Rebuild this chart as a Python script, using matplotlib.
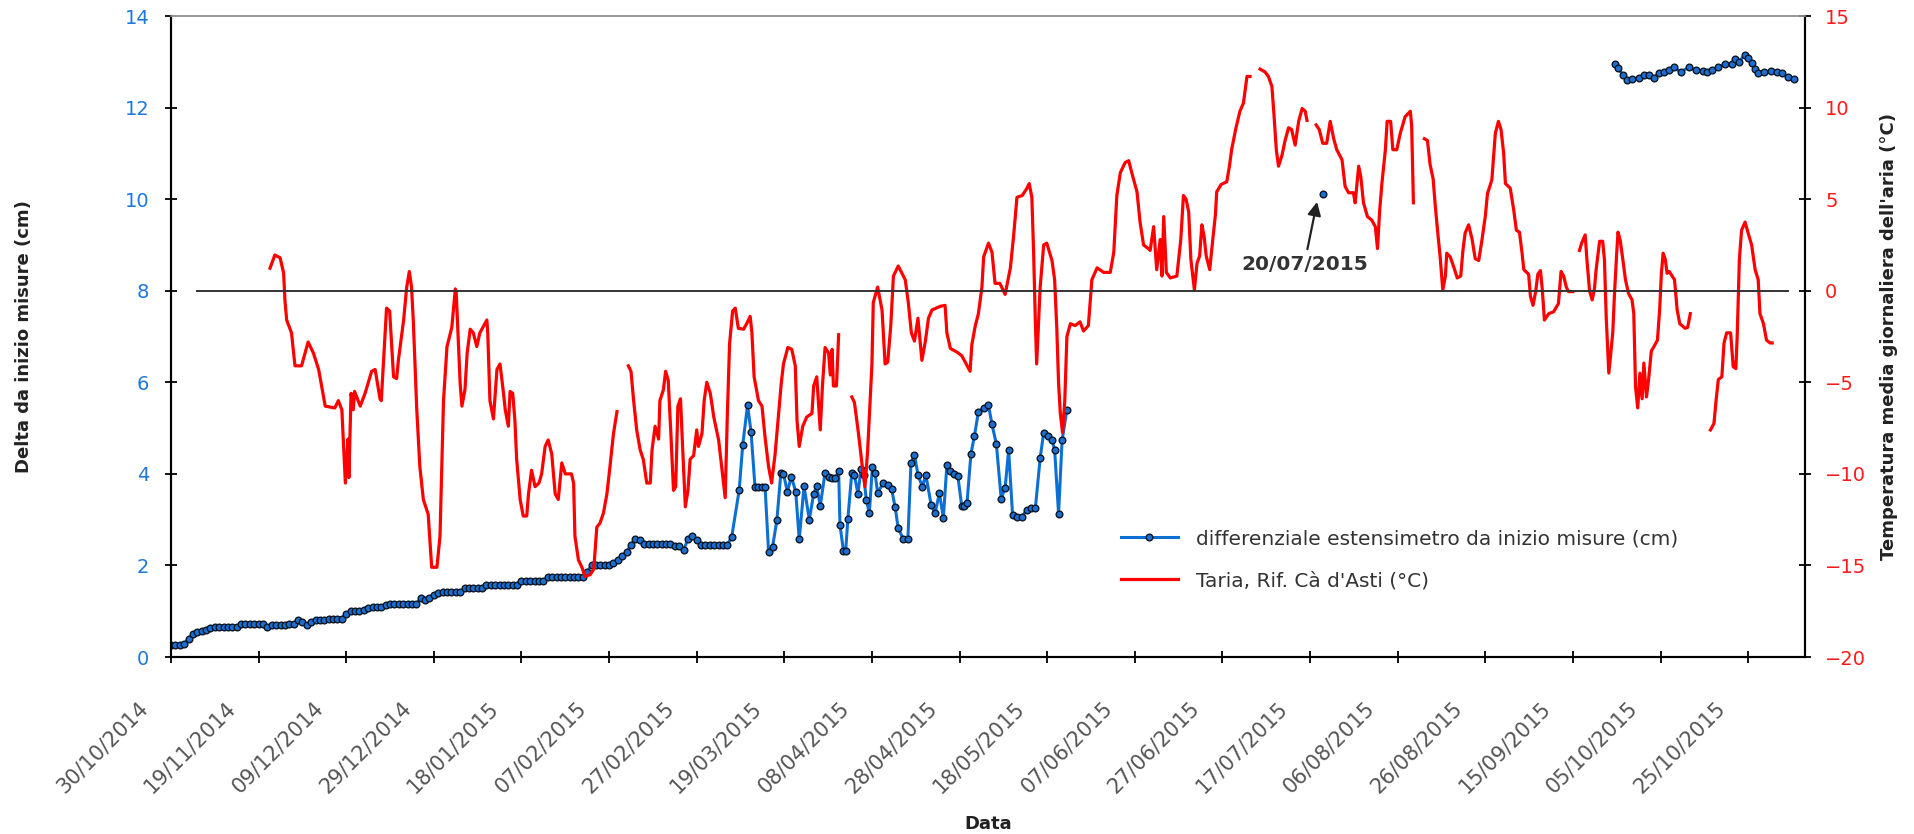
import numpy as np
import pandas as pd
import matplotlib
matplotlib.use("Agg")
import matplotlib.pyplot as plt
import matplotlib.dates as mdates
from matplotlib.transforms import ScaledTranslation

# day 0 = 30/10/2014 (start of the measurements)
start = pd.Timestamp("2014-10-30")

# extensometer, first period: one reading per day (cm)
blue_daily = [0.27, 0.27, 0.27, 0.28, 0.40, 0.50, 0.55, 0.57, 0.60, 0.63,
              0.66, 0.66, 0.66, 0.66, 0.66, 0.66, 0.72, 0.72, 0.72, 0.72,
              0.72, 0.72, 0.66, 0.70, 0.70, 0.70, 0.70, 0.72, 0.72, 0.80,
              0.76, 0.70, 0.76, 0.80, 0.80, 0.80, 0.84, 0.84, 0.84, 0.84,
              0.95, 1.00, 1.00, 1.00, 1.02, 1.06, 1.10, 1.10, 1.10, 1.13,
              1.16, 1.16, 1.16, 1.16, 1.16, 1.16, 1.16, 1.28, 1.25, 1.30,
              1.35, 1.40, 1.42, 1.42, 1.42, 1.42, 1.42, 1.50, 1.50, 1.50,
              1.50, 1.50, 1.58, 1.58, 1.58, 1.58, 1.58, 1.58, 1.58, 1.58,
              1.67, 1.67, 1.67, 1.67, 1.67, 1.67, 1.74, 1.74, 1.74, 1.74,
              1.74, 1.74, 1.74, 1.74, 1.74, 1.86, 2.01, 2.01, 2.01, 2.01,
              2.01, 2.05, 2.12, 2.20, 2.30, 2.45, 2.58, 2.55, 2.46, 2.46,
              2.46, 2.46, 2.46, 2.46, 2.46, 2.43, 2.43, 2.34, 2.57, 2.64,
              2.55, 2.45, 2.45, 2.45, 2.45, 2.45, 2.45, 2.45, 2.63]

# extensometer, later readings (day offset, cm); nan = no data
blue_days = [129.7, 130.5, 131.6, 132.4, 133.3, 134.1, 134.9, 135.6, 136.4, 137.3,
             138.3, 139.2, 139.8, 140.7, 141.6, 142.6, 143.4, 144.5, 145.7, 146.7,
             147.4, 148.2, 149.3, 150.1, 150.9, 151.6, 152.4, 152.7, 153.5, 154.0,
             154.5, 155.4, 156.0, 156.8, 157.5, 158.1, 158.7, 159.4, 160.1, 160.7,
             161.3, 162.6, 163.6, 164.5, 165.3, 166.0, 167.2, 168.2, 168.9, 169.7,
             170.5, 171.5, 172.3, 173.5, 174.4, 175.4, 176.3, 177.1, 177.8, 178.7,
             179.6, 180.5, 181.1, 181.7, 182.6, 183.4, 184.3, 185.5, 186.6, 187.4,
             188.4, 189.5, 190.4, 191.2, 192.1, 193.0, 194.2, 195.4, 196.3, 197.3,
             198.4, 199.2, 200.2, 201.1, 201.7, 202.6, 203.4, 204.5,
             230.0, 263.0, 300.0,
             329.6, 330.4, 331.4, 332.3, 333.5, 335.0, 336.2, 337.4, 338.5, 339.6,
             340.8, 341.9, 343.0, 344.6, 346.5, 348.0, 349.6, 350.5, 351.7, 353.2,
             354.8, 356.3, 357.1, 357.9, 359.2, 360.0, 360.8, 361.6, 362.3, 363.6,
             365.2, 366.7, 367.8, 369.0, 370.5]
blue_vals = [3.65, 4.63, 5.50, 4.92, 3.72, 3.72, 3.72, 3.72, 2.30, 2.40,
             2.99, 4.01, 4.00, 3.61, 3.94, 3.61, 2.57, 3.73, 3.00, 3.57,
             3.73, 3.30, 4.03, 3.93, 3.90, 3.90, 4.06, 2.89, 2.31, 2.31,
             3.02, 4.02, 3.98, 3.56, 4.10, 3.98, 3.44, 3.14, 4.15, 4.02,
             3.58, 3.81, 3.75, 3.66, 3.27, 2.81, 2.57, 2.57, 4.23, 4.42,
             3.98, 3.72, 3.98, 3.33, 3.14, 3.58, 3.04, 4.19, 4.06, 4.00,
             3.96, 3.29, 3.30, 3.37, 4.44, 4.83, 5.36, 5.44, 5.50, 5.08,
             4.65, 3.46, 3.70, 4.52, 3.10, 3.06, 3.06, 3.22, 3.25, 3.25,
             4.35, 4.90, 4.83, 4.75, 4.52, 3.13, 4.73, 5.40,
             np.nan, 10.11, np.nan,
             12.96, 12.86, 12.71, 12.60, 12.63, 12.65, 12.71, 12.72, 12.65, 12.75,
             12.78, 12.83, 12.88, 12.78, 12.88, 12.82, 12.80, 12.77, 12.83, 12.88,
             12.95, 12.95, 13.07, 13.00, 13.15, 13.08, 12.98, 12.84, 12.75, 12.78,
             12.80, 12.78, 12.75, 12.66, 12.63]

# air temperature, Rif. Ca d'Asti (day offset, degC); nan = gap in the record
red_days = [22.6, 23.7, 24.9, 25.7, 26.0, 26.4, 27.5, 28.3, 29.8, 31.3, 32.5, 33.7,
            35.2, 37.4, 38.2, 39.0, 39.8, 40.4, 40.6, 41.1, 41.6, 41.9, 43.2, 44.3,
            45.8, 46.6, 47.7, 48.0, 49.2, 49.9, 50.8, 51.5, 51.9, 53.1, 53.8, 54.4,
            54.9, 55.3, 56.1, 56.8, 57.6, 58.7, 59.5, 60.7, 61.4, 61.8, 62.2, 63.0,
            64.1, 64.9, 65.1, 65.6, 66.0, 66.4, 67.1, 67.6, 68.3, 69.0, 69.8, 70.5,
            72.1, 72.3, 72.8, 73.6, 74.4, 75.1, 75.9, 76.3, 77.0, 77.4, 78.0, 78.5,
            78.9, 79.7, 80.4, 81.2, 81.6, 82.3, 83.1, 84.0, 84.6, 85.4, 86.1, 86.9,
            87.7, 88.4, 89.2, 90.0, 91.4, 91.9, 92.2, 93.0, 93.8, 94.5, 95.7, 96.5,
            97.2, 97.9, 98.7, 99.5, 100.2, 101.0, 101.8,
            103.0,
            104.4, 105.0, 105.6, 106.3, 107.1, 107.8, 108.6, 109.4, 109.8, 110.5,
            111.3, 111.6, 112.4, 112.9, 113.5, 114.1, 114.7, 115.2, 115.7, 116.3,
            116.7, 117.4, 118.0, 118.5, 119.3, 120.0, 120.4, 121.2, 121.7, 122.3,
            123.1, 123.9, 125.0, 125.7, 126.5, 127.0, 127.5, 128.2, 128.8, 129.5,
            130.7, 131.4, 132.2, 132.6, 133.1, 134.1, 134.9, 135.6, 136.4, 137.1,
            137.9, 138.7, 139.3, 139.8, 140.8, 141.7, 142.5, 142.9, 143.4, 144.2,
            145.1, 146.3, 146.7, 147.4, 148.2, 148.7, 149.3, 150.1, 150.5, 150.9,
            151.2, 151.9, 152.4,
            154.0,
            155.4, 156.0, 156.9, 157.7, 158.4, 159.0, 159.4, 160.0, 160.3, 161.3,
            162.3, 163.0, 163.6, 164.3, 164.9, 166.0, 167.6, 168.3, 169.0, 169.7,
            170.5, 171.4, 172.2, 172.9, 173.7, 175.6, 176.7, 177.1, 177.9, 179.4,
            180.5, 181.3, 182.4, 182.8, 183.6, 184.3, 185.1, 185.5, 186.6, 187.4,
            188.1, 189.2, 190.4, 190.9, 191.6, 192.3, 193.1, 194.3, 195.4, 195.9,
            196.5, 196.9, 197.3, 197.6, 198.4, 199.2, 199.9, 201.1, 201.7, 202.2,
            202.6, 203.0, 203.5, 204.0, 204.5, 205.3, 206.4, 207.5, 208.3, 209.4,
            210.2, 211.4, 212.9, 214.4, 215.2, 215.9, 216.7, 217.8, 218.6, 219.3,
            220.5, 221.2, 222.0, 223.1, 223.5, 224.3, 225.0, 225.8, 226.2, 226.6,
            227.2, 228.1, 229.6, 230.5, 231.1, 231.7, 232.3, 232.8, 233.6, 234.2,
            234.8, 235.3, 235.8, 236.3, 237.1, 237.8, 238.4, 238.7, 239.7, 241.0,
            241.6, 242.1, 243.1, 244.0, 244.8, 245.6, 246.3,
            247.5,
            248.6, 249.7, 250.5, 251.3, 251.8, 252.3, 252.8, 253.6, 254.3, 255.1,
            255.8, 256.6, 257.4, 258.2, 258.9, 259.3,
            260.3,
            261.4, 262.1, 262.9, 263.8, 264.6, 265.4, 266.1, 267.3, 268.0, 268.8,
            269.9, 270.3, 271.1, 271.6, 272.2, 273.1, 274.1, 274.9, 275.4, 275.9,
            276.4, 277.2, 277.6, 278.4, 278.9, 279.8, 280.6, 281.7, 282.9, 283.2,
            283.6,
            285.0,
            286.1, 286.8, 287.4, 288.1, 288.6, 289.1, 289.7, 290.3, 290.9, 291.2,
            292.0, 292.8, 293.6, 294.4, 294.9, 295.4, 296.2, 297.0, 297.7, 298.5,
            299.2, 300.0, 300.5, 301.5, 302.3, 303.0, 303.6, 304.2, 304.6, 305.7,
            306.5, 307.1, 307.8, 308.4, 308.8, 309.9, 310.3, 310.9, 311.5, 312.0,
            312.6, 313.0, 313.5, 314.5, 315.6, 316.7, 317.3, 317.9, 318.5, 319.0,
            320.0,
            320.8,
            321.5, 322.0, 322.8, 323.2, 323.8, 324.4, 324.9, 325.3, 326.1, 326.8,
            327.2, 327.6, 328.2, 328.7, 329.1, 329.5, 330.0, 330.3, 330.8, 331.4,
            332.0, 332.7, 333.5, 333.9, 334.3, 334.8, 335.3, 335.8, 336.2, 336.8,
            337.3, 337.9, 338.5, 339.3, 339.8, 340.2, 340.6, 341.1, 341.5, 342.0,
            343.2, 343.8, 344.4, 345.6, 346.2, 346.8,
            349.0,
            351.4, 352.2, 352.7, 353.2, 354.0, 354.5, 355.1, 356.0, 356.6, 357.2,
            357.5, 358.0, 358.5, 359.3, 360.0, 360.8, 361.6, 362.3, 362.7, 363.5,
            364.2, 365.0, 365.5]
red_temp = [1.23, 1.95, 1.8, 0.97, -0.5, -1.6, -2.3, -4.1, -4.1, -2.8, -3.4, -4.3,
            -6.3, -6.4, -6.0, -6.5, -10.5, -8.1, -10.2, -5.6, -6.5, -5.5, -6.3, -5.6,
            -4.4, -4.3, -5.9, -6.0, -0.95, -1.1, -4.7, -4.8, -3.8, -1.6, 0.2, 1.05,
            0.2, -1.6, -6.5, -9.6, -11.4, -12.2, -15.1, -15.1, -13.4, -9.6, -6.0, -3.05,
            -2.0, 0.1, -0.1, -2.9, -5.05, -6.3, -5.4, -3.4, -2.1, -2.3, -3.05, -2.3,
            -1.6, -2.3, -6.0, -7.0, -4.3, -4.0, -5.6, -6.5, -7.4, -5.5, -5.6, -7.1,
            -9.2, -11.4, -12.3, -12.3, -11.1, -9.8, -10.7, -10.5, -10.0, -8.5, -8.15, -8.9,
            -11.1, -11.4, -9.4, -10.0, -10.0, -10.5, -13.4, -14.7, -15.1, -15.6, -15.5, -15.2,
            -12.9, -12.7, -12.15, -11.1, -9.6, -7.8, -6.6,
            np.nan,
            -4.1, -4.4, -6.0, -7.6, -8.7, -9.2, -10.5, -10.5, -8.7, -7.4,
            -8.1, -6.0, -5.4, -4.4, -4.9, -7.8, -10.9, -10.7, -6.3, -5.9,
            -8.1, -11.8, -10.9, -9.2, -9.0, -7.6, -8.5, -7.8, -6.0, -5.0,
            -5.6, -6.9, -8.15, -9.6, -11.3, -6.7, -2.9, -1.1, -0.95, -2.05,
            -2.1, -1.8, -1.4, -2.3, -4.7, -6.0, -6.3, -8.0, -9.6, -10.5,
            -8.9, -6.7, -5.05, -4.0, -3.1, -3.2, -4.1, -7.1, -8.5, -7.4,
            -6.9, -6.7, -5.2, -4.7, -7.6, -5.2, -3.1, -3.4, -4.6, -3.2,
            -5.2, -5.2, -2.4,
            np.nan,
            -5.8, -6.1, -7.75, -9.4, -10.7, -8.8, -6.9, -4.0, -0.65, 0.2,
            -1.05, -4.0, -3.9, -1.9, 0.8, 1.35, 0.6, -0.65, -2.3, -2.75,
            -1.5, -3.8, -2.75, -1.5, -1.05, -0.85, -0.8, -2.3, -3.15, -3.35,
            -3.55, -3.9, -4.4, -2.95, -1.9, -1.25, 0.2, 1.85, 2.6, 2.1,
            0.4, 0.4, -0.2, 0.4, 1.25, 2.9, 5.1, 5.2, 5.6, 5.85,
            5.1, 2.1, -1.7, -4.0, 0.2, 2.5, 2.6, 1.65, 0.6, -2.1,
            -5.05, -6.7, -7.75, -6.1, -2.5, -1.8, -1.9, -1.7, -2.2, -1.9,
            0.6, 1.25, 1.0, 1.0, 2.1, 5.2, 6.45, 7.0, 7.1, 6.45,
            5.4, 3.75, 2.5, 2.3, 2.2, 3.5, 1.15, 2.8, 0.8, 4.05,
            1.0, 0.7, 0.8, 2.8, 5.2, 5.0, 4.3, 1.7, 0.05, 1.5,
            1.9, 3.6, 3.0, 1.9, 1.15, 2.8, 4.15, 5.4, 5.8, 5.95,
            6.8, 7.7, 8.9, 9.8, 10.25, 11.7, 11.7,
            np.nan,
            12.1, 11.95, 11.7, 11.15, 9.5, 7.7, 6.8, 7.4, 8.2, 8.9,
            8.8, 7.95, 9.25, 9.95, 9.8, 9.3,
            np.nan,
            9.05, 8.8, 8.05, 8.05, 9.25, 8.3, 7.7, 7.15, 5.7, 5.35,
            5.35, 4.8, 6.8, 6.2, 4.8, 4.05, 3.85, 3.5, 2.3, 4.4,
            5.85, 7.7, 9.25, 9.25, 7.7, 7.7, 8.6, 9.5, 9.8, 9.0,
            4.8,
            np.nan,
            8.3, 8.2, 6.9, 6.1, 4.6, 3.3, 1.85, 0.05, 0.8, 2.05,
            1.85, 1.3, 0.7, 0.8, 2.2, 3.15, 3.6, 2.8, 1.75, 1.65,
            2.7, 4.05, 5.3, 6.05, 8.6, 9.25, 8.8, 7.5, 5.85, 5.6,
            4.4, 3.3, 3.2, 2.05, 1.15, 0.9, -0.3, -0.8, -0.05, 0.9,
            1.1, 0.1, -1.6, -1.25, -1.15, -0.7, 1.05, 0.8, 0.2, -0.05,
            -0.05,
            np.nan,
            2.2, 2.6, 3.05, 1.7, 0.0, -0.5, 0.05, 1.15, 2.7, 2.7,
            1.7, -1.4, -4.5, -3.3, -2.3, -0.15, 2.05, 3.2, 2.75, 1.7,
            0.6, -0.15, -0.5, -1.25, -5.25, -6.4, -4.5, -5.9, -3.95, -5.8,
            -4.8, -3.3, -3.05, -2.7, -1.05, 0.95, 2.05, 1.7, 0.95, 1.05,
            0.6, -1.05, -1.8, -2.05, -2.0, -1.25,
            np.nan,
            -7.6, -7.25, -5.95, -4.85, -4.7, -2.85, -2.3, -2.3, -4.15, -4.25,
            -2.5, 1.7, 3.3, 3.75, 3.15, 2.5, 1.15, 0.6, -1.25, -1.8,
            -2.7, -2.85, -2.85]

# 0 degC reference line (day offsets of its ends)
zero_days = [6, 369]
zero_temp = [0, 0]

# annotated reading
note_text = "20/07/2015"
note_day = 263
note_val = 10.11


def to_dates(days):
    return start + pd.to_timedelta(np.asarray(days, dtype=float), unit="D")


plt.rcParams["font.family"] = ["DejaVu Sans"]

fig = plt.figure(figsize=(19.15, 8.34), dpi=100)
ax = fig.add_axes([0.0893, 0.2122, 0.8533, 0.7686])
ax2 = ax.twinx()

blue_x = np.concatenate([to_dates(np.arange(len(blue_daily))), to_dates(blue_days)])
blue_y = np.concatenate([blue_daily, blue_vals])
ax.plot(blue_x, blue_y, color="#0b6fd3", lw=2.2, marker="o", ms=4.8,
        mfc="#1b6fd0", mec="#0d1626", mew=1.0,
        label="differenziale estensimetro da inizio misure (cm)")

ax2.plot(to_dates(red_days), red_temp, color="#ff0000", lw=2.3,
         label="Taria, Rif. Cà d'Asti (°C)")
ax2.plot(to_dates(zero_days), zero_temp, color="#333333", lw=1.4)

ax.set_xlim(start, start + pd.Timedelta(days=373))
ax.set_ylim(0, 14)
ax2.set_ylim(-20, 15)
ax.set_yticks(np.arange(0, 15, 2))
ax2.set_yticks(np.arange(-20, 16, 5))
ax.set_xticks(pd.date_range(start, periods=19, freq="20D"))
ax.xaxis.set_major_formatter(mdates.DateFormatter("%d/%m/%Y"))

for a in (ax, ax2):
    for side in ("left", "right", "bottom"):
        a.spines[side].set_color("black")
        a.spines[side].set_linewidth(1.5)
    a.spines["top"].set_color("#999999")
    a.spines["top"].set_linewidth(1.2)

ax.tick_params(axis="both", direction="inout", length=9, width=1.3, color="black")
ax.tick_params(axis="y", labelsize=14, labelcolor="#1f78d8", pad=11)
ax.tick_params(axis="x", labelsize=15, labelcolor="#555555", pad=30)
ax2.tick_params(axis="y", direction="inout", length=9, width=1.3, color="black",
                labelsize=14, labelcolor="#ff1a1a", pad=10)

shift = ScaledTranslation(-26 / 100, 0, fig.dpi_scale_trans)
for lbl in ax.get_xticklabels():
    lbl.set_rotation(45)
    lbl.set_horizontalalignment("right")
    lbl.set_verticalalignment("center")
    lbl.set_rotation_mode("anchor")
    lbl.set_transform(lbl.get_transform() + shift)

lab = dict(fontsize=13, fontweight="bold", color="#222222")
ax.set_ylabel("Delta da inizio misure (cm)", **lab)
ax.yaxis.set_label_coords(-0.0845, 0.5)
ax2.set_ylabel("Temperatura media giornaliera dell'aria (°C)", **lab)
ax2.yaxis.set_label_coords(1.0459, 0.5)
ax.set_xlabel("Data", **lab)
ax.xaxis.set_label_coords(0.5, -0.2465)

ax.annotate(note_text, xy=(mdates.date2num(to_dates([note_day - 1.4])[0]), note_val - 0.17),
            xytext=(mdates.date2num(to_dates([note_day - 4.3])[0]), note_val - 1.53),
            ha="center", va="center", fontsize=14.5, fontweight="bold", color="#333333",
            arrowprops=dict(arrowstyle="-|>", color="#222222", lw=1.6,
                            mutation_scale=20, shrinkA=2, shrinkB=0))

h1, l1 = ax.get_legend_handles_labels()
h2, l2 = ax2.get_legend_handles_labels()
ax2.legend(h1 + h2, l1 + l2, loc="upper left", bbox_to_anchor=(0.5753, 0.215),
           frameon=False, fontsize=14.5, labelcolor="#333333", borderpad=0,
           handlelength=2.8, handletextpad=0.9, labelspacing=1.15, numpoints=1)

fig.savefig("out.png", dpi=100)
